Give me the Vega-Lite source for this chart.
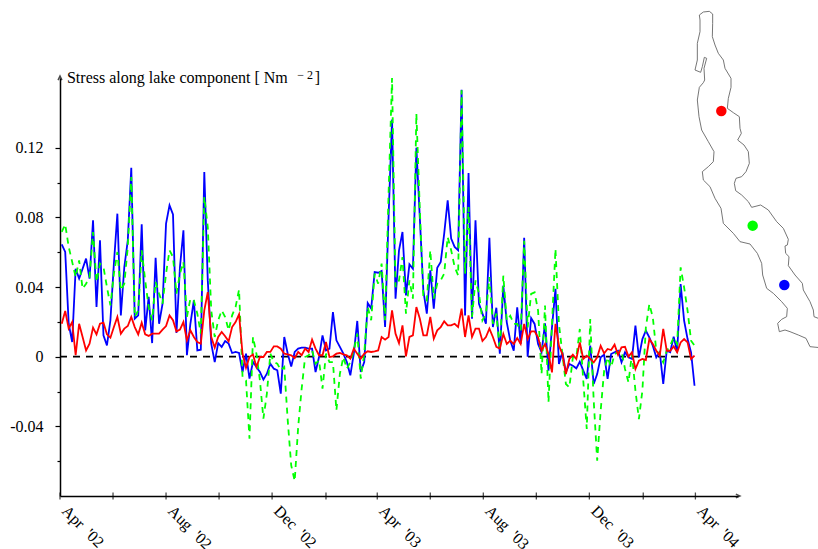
{"$schema":"https://vega.github.io/schema/vega-lite/v6.json","width":678,"height":418,"autosize":"none","padding":{"left":60,"top":78,"right":80,"bottom":53},"background":"white","config":{"view":{"stroke":null},"font":"Liberation Serif"},
"datasets":{"stress":[
{"date":"2002-04-03","south":0.0645,"central":0.0716,"north":0.0189},{"date":"2002-04-07","south":0.0601,"central":0.076,"north":0.0262},{"date":"2002-04-11","south":0.0189,"central":0.063,"north":0.0161},{"date":"2002-04-15","south":0.0084,"central":0.0544,"north":0.0199},{"date":"2002-04-19","south":0.0505,"central":0.0457,"north":0.0008},{"date":"2002-04-23","south":0.0448,"central":0.0553,"north":0.0189},{"date":"2002-04-27","south":0.0505,"central":0.039,"north":0.0113},
{"date":"2002-05-01","south":0.0563,"central":0.0419,"north":0.0036},{"date":"2002-05-05","south":0.0448,"central":0.0457,"north":0.0075},{"date":"2002-05-09","south":0.0783,"central":0.0716,"north":0.0167},{"date":"2002-05-13","south":0.0285,"central":0.0429,"north":0.0128},{"date":"2002-05-17","south":0.0668,"central":0.0534,"north":0.0189},{"date":"2002-05-21","south":0.0122,"central":0.0515,"north":0.0195},{"date":"2002-05-25","south":0.0065,"central":0.04,"north":0.0128},{"date":"2002-05-29","south":0.0209,"central":0.0295,"north":0.0109},
{"date":"2002-06-02","south":0.0534,"central":0.0477,"north":0.017},{"date":"2002-06-06","south":0.0821,"central":0.0601,"north":0.0228},{"date":"2002-06-10","south":0.0237,"central":0.0381,"north":0.0132},{"date":"2002-06-14","south":0.0515,"central":0.0419,"north":0.0161},{"date":"2002-06-18","south":0.0668,"central":0.063,"north":0.0176},{"date":"2002-06-22","south":0.1085,"central":0.1032,"north":0.0228},{"date":"2002-06-26","south":0.0218,"central":0.0228,"north":0.017},{"date":"2002-06-30","south":0.0237,"central":0.0266,"north":0.0128},
{"date":"2002-07-04","south":0.076,"central":0.0611,"north":0.0195},{"date":"2002-07-08","south":0.0151,"central":0.0438,"north":0.0128},{"date":"2002-07-12","south":0.0343,"central":0.0285,"north":0.0119},{"date":"2002-07-16","south":0.0078,"central":0.0209,"north":0.0132},{"date":"2002-07-20","south":0.0568,"central":0.0429,"north":0.0132},{"date":"2002-07-24","south":0.0189,"central":0.0362,"north":0.0132},{"date":"2002-07-28","south":0.0304,"central":0.0304,"north":0.0155},
{"date":"2002-08-01","south":0.0764,"central":0.0477,"north":0.0176},{"date":"2002-08-05","south":0.0869,"central":0.0611,"north":0.0237},{"date":"2002-08-09","south":0.0817,"central":0.0572,"north":0.0209},{"date":"2002-08-13","south":0.0136,"central":0.0362,"north":0.0145},{"date":"2002-08-17","south":0.0515,"central":0.0477,"north":0.0155},{"date":"2002-08-21","south":0.0725,"central":0.0544,"north":0.0199},{"date":"2002-08-25","south":0.0008,"central":0.0228,"north":0.0094},{"date":"2002-08-29","south":0.0189,"central":0.0333,"north":0.0151},
{"date":"2002-09-02","south":0.0323,"central":0.0323,"north":0.0113},{"date":"2002-09-06","south":0.0036,"central":0.0247,"north":0.0084},{"date":"2002-09-10","south":0.004,"central":0.0132,"north":0.0075},{"date":"2002-09-14","south":0.106,"central":0.0917,"north":0.0266},{"date":"2002-09-18","south":0.0438,"central":0.0744,"north":0.0371},{"date":"2002-09-22","south":0.0075,"central":0.0266,"north":0.0113},{"date":"2002-09-26","south":-0.0031,"central":0.0113,"north":0.0052},{"date":"2002-09-30","south":0.0078,"central":0.0209,"north":0.0113},
{"date":"2002-10-04","south":0.0056,"central":0.0266,"north":0.0142},{"date":"2002-10-08","south":0.009,"central":0.0228,"north":0.0117},{"date":"2002-10-12","south":0.0075,"central":0.0151,"north":0.0088},{"date":"2002-10-16","south":0.0021,"central":0.0237,"north":0.017},{"date":"2002-10-20","south":0.0027,"central":0.0285,"north":0.0199},{"date":"2002-10-24","south":0.0021,"central":0.0385,"north":0.0243},{"date":"2002-10-28","south":-0.0088,"central":-0.0117,"north":0.0017},
{"date":"2002-11-01","south":0.0017,"central":-0.0136,"north":-0.0063},{"date":"2002-11-05","south":-0.0126,"central":-0.0471,"north":-0.0002},{"date":"2002-11-09","south":-0.0031,"central":0.0113,"north":0.0013},{"date":"2002-11-13","south":-0.0059,"central":0.0017,"north":-0.0059},{"date":"2002-11-17","south":-0.0088,"central":-0.0136,"north":-0.0002},{"date":"2002-11-21","south":-0.0132,"central":-0.0356,"north":-0.0002},{"date":"2002-11-25","south":-0.0098,"central":-0.0212,"north":0.0027},{"date":"2002-11-29","south":-0.004,"central":0.0017,"north":0.0027},
{"date":"2002-12-03","south":-0.0069,"central":-0.0031,"north":0.0059},{"date":"2002-12-07","south":-0.0078,"central":-0.004,"north":0.0059},{"date":"2002-12-11","south":-0.0212,"central":-0.0078,"north":0.0046},{"date":"2002-12-15","south":0.0113,"central":-0.0059,"north":0.0017},{"date":"2002-12-19","south":0.0017,"central":-0.0366,"north":0.0013},{"date":"2002-12-23","south":-0.0056,"central":-0.0624,"north":0.0008},{"date":"2002-12-27","south":0.0027,"central":-0.0714,"north":-0.0008},{"date":"2002-12-31","south":0.0046,"central":-0.0404,"north":0.0027},
{"date":"2003-01-04","south":0.0052,"central":-0.0184,"north":0.0008},{"date":"2003-01-08","south":0.0052,"central":-0.0002,"north":0.0046},{"date":"2003-01-12","south":0.0046,"central":0.0008,"north":0.0027},{"date":"2003-01-16","south":0.0046,"central":0.0036,"north":0.0098},{"date":"2003-01-20","south":-0.0088,"central":-0.004,"north":0.0046},{"date":"2003-01-24","south":-0.0002,"central":-0.0021,"north":0.0008},{"date":"2003-01-28","south":0.0122,"central":-0.0184,"north":0.0008},
{"date":"2003-02-01","south":0.0036,"central":0.0017,"north":0.0084},{"date":"2003-02-05","south":0.0046,"central":-0.0031,"north":-0.0002},{"date":"2003-02-09","south":0.0256,"central":-0.0031,"north":0.0002},{"date":"2003-02-13","south":0.0094,"central":-0.0308,"north":0.0017},{"date":"2003-02-17","south":0.0056,"central":-0.0098,"north":0.0021},{"date":"2003-02-21","south":0.0017,"central":-0.0002,"north":0.0013},{"date":"2003-02-25","south":-0.0031,"central":-0.0069,"north":0.0008},
{"date":"2003-03-01","south":-0.0107,"central":-0.0031,"north":-0.0011},{"date":"2003-03-05","south":0.0017,"central":0.0036,"north":0.0046},{"date":"2003-03-09","south":0.0205,"central":0.0132,"north":0.0017},{"date":"2003-03-13","south":-0.0088,"central":-0.0126,"north":-0.0011},{"date":"2003-03-17","south":-0.0031,"central":0.0017,"north":0.0017},{"date":"2003-03-21","south":0.0308,"central":0.0285,"north":0.0031},{"date":"2003-03-25","south":0.0276,"central":0.0209,"north":0.0027},{"date":"2003-03-29","south":0.0486,"central":0.0477,"north":0.0031},
{"date":"2003-04-02","south":0.0482,"central":0.0419,"north":0.0036},{"date":"2003-04-06","south":0.0492,"central":0.0534,"north":0.0113},{"date":"2003-04-10","south":0.017,"central":0.0209,"north":0.0098},{"date":"2003-04-14","south":0.0802,"central":0.0936,"north":0.0113},{"date":"2003-04-18","south":0.1361,"central":0.16,"north":0.0266},{"date":"2003-04-22","south":0.0333,"central":0.04,"north":0.0132},{"date":"2003-04-26","south":0.0611,"central":0.0438,"north":0.0078},{"date":"2003-04-30","south":0.0716,"central":0.0572,"north":0.018},
{"date":"2003-05-04","south":0.0352,"central":0.0247,"north":0.0002},{"date":"2003-05-08","south":0.053,"central":0.0438,"north":0.0113},{"date":"2003-05-12","south":0.0505,"central":0.0333,"north":0.0122},{"date":"2003-05-16","south":0.12,"central":0.1395,"north":0.0285},{"date":"2003-05-20","south":0.0792,"central":0.084,"north":0.0218},{"date":"2003-05-24","south":0.0381,"central":0.0343,"north":0.0122},{"date":"2003-05-28","south":0.0247,"central":0.0323,"north":0.0122},
{"date":"2003-06-01","south":0.0496,"central":0.0611,"north":0.0228},{"date":"2003-06-05","south":0.0276,"central":0.0333,"north":0.0103},{"date":"2003-06-09","south":0.0511,"central":0.0419,"north":0.0151},{"date":"2003-06-13","south":0.0544,"central":0.0438,"north":0.017},{"date":"2003-06-17","south":0.0706,"central":0.0477,"north":0.0203},{"date":"2003-06-21","south":0.0898,"central":0.0687,"north":0.018},{"date":"2003-06-25","south":0.0678,"central":0.0611,"north":0.018},{"date":"2003-06-29","south":0.063,"central":0.0515,"north":0.0189},
{"date":"2003-07-03","south":0.0611,"central":0.0467,"north":0.017},{"date":"2003-07-07","south":0.1533,"central":0.1529,"north":0.0276},{"date":"2003-07-11","south":0.0237,"central":0.0477,"north":0.0113},{"date":"2003-07-15","south":0.1055,"central":0.0859,"north":0.0237},{"date":"2003-07-19","south":0.0218,"central":0.0228,"north":0.0113},{"date":"2003-07-23","south":0.0783,"central":0.0438,"north":0.0161},{"date":"2003-07-27","south":0.0304,"central":0.0362,"north":0.0161},{"date":"2003-07-31","south":0.0247,"central":0.0209,"north":0.009},
{"date":"2003-08-04","south":0.0189,"central":0.0247,"north":0.0113},{"date":"2003-08-08","south":0.0683,"central":0.0457,"north":0.0161},{"date":"2003-08-12","south":0.017,"central":0.0189,"north":0.0113},{"date":"2003-08-16","south":0.0281,"central":0.0247,"north":0.0056},{"date":"2003-08-20","south":0.0017,"central":0.0036,"north":0.0046},{"date":"2003-08-24","south":0.0408,"central":0.0465,"north":0.013},{"date":"2003-08-28","south":0.0197,"central":0.0207,"north":0.0073},
{"date":"2003-09-01","south":0.0092,"central":0.0235,"north":0.0092},{"date":"2003-09-05","south":0.0034,"central":0.0188,"north":0.0073},{"date":"2003-09-09","south":0.0283,"central":0.0188,"north":0.0107},{"date":"2003-09-13","south":0.0073,"central":0.0149,"north":0.0073},{"date":"2003-09-17","south":0.0683,"central":0.0666,"north":0.0188},{"date":"2003-09-21","south":0,"central":0.0168,"north":0.0101},{"date":"2003-09-25","south":0.0222,"central":0.036,"north":0.0145},{"date":"2003-09-29","south":0.0188,"central":0.0369,"north":0.0145},
{"date":"2003-10-03","south":0.0073,"central":0.0264,"north":0.0111},{"date":"2003-10-07","south":0.0025,"central":-0.01,"north":0.0034},{"date":"2003-10-11","south":0.0191,"central":0.0293,"north":0.0073},{"date":"2003-10-15","south":-0.008,"central":-0.0262,"north":0.0015},{"date":"2003-10-19","south":0.0168,"central":0.0188,"north":-0.009},{"date":"2003-10-23","south":0.0389,"central":0.0618,"north":0.0188},{"date":"2003-10-27","south":-0.0042,"central":0.0188,"north":0.0063},{"date":"2003-10-31","south":0.0025,"central":0.0015,"north":0.0015},
{"date":"2003-11-04","south":-0.009,"central":-0.0157,"north":-0.01},{"date":"2003-11-08","south":-0.0042,"central":-0.0176,"north":-0.0013},{"date":"2003-11-12","south":-0.0052,"central":-0.0004,"north":0.0011},{"date":"2003-11-16","south":-0.0067,"central":-0.0004,"north":-0.0013},{"date":"2003-11-20","south":-0.0029,"central":0.0159,"north":0.0082},{"date":"2003-11-24","south":-0.008,"central":-0.0138,"north":-0.0013},{"date":"2003-11-28","south":-0.0128,"central":-0.0415,"north":0.0006},
{"date":"2003-12-02","south":0.0063,"central":0.0216,"north":-0.0013},{"date":"2003-12-06","south":-0.0157,"central":-0.0253,"north":-0.0033},{"date":"2003-12-10","south":-0.01,"central":-0.0597,"north":-0.0004},{"date":"2003-12-14","south":-0.0004,"central":-0.031,"north":0.0063},{"date":"2003-12-18","south":0.0011,"central":-0.008,"north":0.0019},{"date":"2003-12-22","south":-0.0128,"central":-0.0004,"north":0.0044},{"date":"2003-12-26","south":0.0015,"central":-0.0061,"north":0.0038},{"date":"2003-12-30","south":0.0025,"central":0.0015,"north":0.0069},
{"date":"2004-01-03","south":0.0034,"central":0.0025,"north":0.0011},{"date":"2004-01-07","south":-0.0033,"central":0.0034,"north":0.0054},{"date":"2004-01-11","south":0.0025,"central":-0.0071,"north":0.0057},{"date":"2004-01-15","south":-0.0004,"central":-0.0147,"north":0},{"date":"2004-01-19","south":-0.0013,"central":0.0015,"north":0.0025},{"date":"2004-01-23","south":0.0178,"central":-0.0195,"north":-0.0071},{"date":"2004-01-27","south":-0.0004,"central":-0.0358,"north":-0.0023},{"date":"2004-01-31","south":0.0101,"central":-0.0195,"north":-0.0013},
{"date":"2004-02-04","south":0.0149,"central":0.0168,"north":-0.0019},{"date":"2004-02-08","south":0.0111,"central":0.0302,"north":0.0101},{"date":"2004-02-12","south":0.0063,"central":0.0226,"north":0.0073},{"date":"2004-02-16","south":-0.0004,"central":0.0034,"north":0.0034},{"date":"2004-02-20","south":0.0025,"central":0.0015,"north":0.0006},{"date":"2004-02-24","south":-0.0157,"central":-0.0033,"north":0.0159},{"date":"2004-02-28","south":0.0034,"central":0.0034,"north":0.0034},
{"date":"2004-03-03","south":0.0025,"central":0.0063,"north":0.0034},{"date":"2004-03-07","south":0.0115,"central":0.0111,"north":0.0059},{"date":"2004-03-11","south":0.0025,"central":0.0073,"north":0.0025},{"date":"2004-03-15","south":0.0417,"central":0.0513,"north":0.0082},{"date":"2004-03-19","south":0.0207,"central":0.0398,"north":0.0101},{"date":"2004-03-23","south":0.0101,"central":0.0264,"north":0.0082},{"date":"2004-03-27","south":0.0025,"central":0.0092,"north":-0.0013},{"date":"2004-03-31","south":-0.0167,"central":0.0063,"north":0.0006}
],
"zero":[{"date":"2002-04-01","v":0},{"date":"2004-03-31","v":0}],
"months":[{"date":"2002-04-01"},{"date":"2002-06-01"},{"date":"2002-08-01"},{"date":"2002-10-01"},{"date":"2002-12-01"},{"date":"2003-02-01"},{"date":"2003-04-01"},{"date":"2003-06-01"},{"date":"2003-08-01"},{"date":"2003-10-01"},{"date":"2003-12-01"},{"date":"2004-02-01"},{"date":"2004-04-01"}],
"lake":[{"seq":1,"east":88,"south":45},{"seq":2,"east":100,"south":36},{"seq":3,"east":118,"south":34},{"seq":4,"east":128,"south":42},{"seq":5,"east":128,"south":70},{"seq":6,"east":127,"south":110},{"seq":7,"east":135,"south":135},{"seq":8,"east":145,"south":160},{"seq":9,"east":160,"south":180},{"seq":10,"east":165,"south":205},{"seq":11,"east":183,"south":235},{"seq":12,"east":183,"south":262},{"seq":13,"east":175,"south":295},{"seq":14,"east":172,"south":325},{"seq":15,"east":190,"south":338},{"seq":16,"east":208,"south":350},{"seq":17,"east":210,"south":385},{"seq":18,"east":214,"south":400},{"seq":19,"east":203,"south":420},{"seq":20,"east":222,"south":435},{"seq":21,"east":235,"south":455},{"seq":22,"east":238,"south":490},{"seq":23,"east":228,"south":515},{"seq":24,"east":215,"south":530},{"seq":25,"east":198,"south":535},{"seq":26,"east":193,"south":550},{"seq":27,"east":197,"south":572},{"seq":28,"east":215,"south":585},{"seq":29,"east":235,"south":605},{"seq":30,"east":245,"south":622},{"seq":31,"east":272,"south":615},{"seq":32,"east":295,"south":630},{"seq":33,"east":320,"south":665},{"seq":34,"east":340,"south":685},{"seq":35,"east":355,"south":718},{"seq":36,"east":352,"south":735},{"seq":37,"east":345,"south":738},{"seq":38,"east":347,"south":760},{"seq":39,"east":357,"south":770},{"seq":40,"east":355,"south":797},{"seq":41,"east":375,"south":825},{"seq":42,"east":397,"south":850},{"seq":43,"east":400,"south":870},{"seq":44,"east":420,"south":905},{"seq":45,"east":430,"south":930},{"seq":46,"east":432,"south":950},{"seq":47,"east":450,"south":957},{"seq":48,"east":450,"south":1043},{"seq":49,"east":420,"south":1040},{"seq":50,"east":408,"south":1015},{"seq":51,"east":385,"south":1005},{"seq":52,"east":360,"south":995},{"seq":53,"east":345,"south":990},{"seq":54,"east":328,"south":995},{"seq":55,"east":323,"south":970},{"seq":56,"east":335,"south":958},{"seq":57,"east":350,"south":950},{"seq":58,"east":352,"south":925},{"seq":59,"east":335,"south":905},{"seq":60,"east":310,"south":880},{"seq":61,"east":290,"south":865},{"seq":62,"east":278,"south":825},{"seq":63,"east":275,"south":790},{"seq":64,"east":262,"south":760},{"seq":65,"east":240,"south":732},{"seq":66,"east":210,"south":725},{"seq":67,"east":190,"south":700},{"seq":68,"east":160,"south":670},{"seq":69,"east":153,"south":625},{"seq":70,"east":135,"south":595},{"seq":71,"east":120,"south":560},{"seq":72,"east":100,"south":540},{"seq":73,"east":97,"south":515},{"seq":74,"east":115,"south":500},{"seq":75,"east":130,"south":485},{"seq":76,"east":132,"south":455},{"seq":77,"east":115,"south":425},{"seq":78,"east":95,"south":390},{"seq":79,"east":87,"south":350},{"seq":80,"east":82,"south":300},{"seq":81,"east":88,"south":262},{"seq":82,"east":100,"south":248},{"seq":83,"east":104,"south":240},{"seq":84,"east":102,"south":205},{"seq":85,"east":110,"south":175},{"seq":86,"east":103,"south":172},{"seq":87,"east":97,"south":200},{"seq":88,"east":92,"south":217},{"seq":89,"east":75,"south":210},{"seq":90,"east":82,"south":180},{"seq":91,"east":82,"south":130},{"seq":92,"east":90,"south":95},{"seq":93,"east":90,"south":60},{"seq":94,"east":88,"south":45}],
"stations":[{"station":"north","east":154,"south":333},{"station":"central","east":248,"south":677},{"station":"south","east":343,"south":855}]
},
"layer":[
{"data":{"name":"stress"},
 "encoding":{"x":{"field":"date","type":"temporal","scale":{"type":"utc","domain":["2002-04-01","2004-05-20"]},"axis":{"title":null,"grid":false,"ticks":false,"domainColor":"black","domainWidth":1.5,"labelColor":"black","labelFont":"Liberation Serif","labelFontSize":16,"labelAngle":45,"labelAlign":"left","labelBaseline":"middle","labelPadding":12,"labelOffset":4,"labelFlush":false,"labelOverlap":false,"labelBound":false,
   "values":[{"year":2002,"month":4,"date":1,"utc":true},{"year":2002,"month":8,"date":1,"utc":true},{"year":2002,"month":12,"date":1,"utc":true},{"year":2003,"month":4,"date":1,"utc":true},{"year":2003,"month":8,"date":1,"utc":true},{"year":2003,"month":12,"date":1,"utc":true},{"year":2004,"month":4,"date":1,"utc":true}],
   "labelExpr":"utcFormat(datum.value, \"%b\u00a0 '%y\")"}}},
 "layer":[
  {"data":{"name":"zero"},"mark":{"type":"line","color":"black","strokeWidth":1.6,"strokeDash":[7,6]},"encoding":{"y":{"field":"v","type":"quantitative","scale":{"domain":[-0.08,0.16]},"axis":{"title":null,"grid":false,"domainColor":"black","domainWidth":1.5,"tickColor":"black","tickWidth":1.2,"tickSize":{"condition":{"test":"abs(round(datum.value*100))%4==0","value":5},"value":3},"labelColor":"black","labelFont":"Liberation Serif","labelFontSize":16,"labelPadding":12,"values":[-0.06,-0.04,-0.02,0,0.02,0.04,0.06,0.08,0.1,0.12],"labelExpr":"datum.value==0?'0':(abs(round(datum.value*100))%4==0?(datum.value<0?'-':'')+format(abs(datum.value),'.2f'):'')"}}}},
  {"mark":{"type":"line","color":"#0000ff","strokeWidth":1.8},"encoding":{"y":{"field":"south","type":"quantitative"}}},
  {"mark":{"type":"line","color":"#00ff00","strokeWidth":1.8,"strokeDash":[6,5]},"encoding":{"y":{"field":"central","type":"quantitative"}}},
  {"mark":{"type":"line","color":"#ff0000","strokeWidth":1.8},"encoding":{"y":{"field":"north","type":"quantitative"}}},
  {"data":{"name":"months"},"mark":{"type":"tick","orient":"vertical","color":"black","size":7,"thickness":1.3},"encoding":{"y":{"datum":-0.08,"type":"quantitative"}}},
  {"data":{"values":[{"date":"2002-04-01","v":0.16}]},"mark":{"type":"point","shape":"M -0.5 0.55 L 0 -0.5 L 0.5 0.55","filled":false,"stroke":"black","strokeWidth":1.5,"size":60},"encoding":{"y":{"field":"v","type":"quantitative"}}},
  {"data":{"values":[{"date":"2004-05-20","v":-0.08}]},"mark":{"type":"point","shape":"M -0.55 -0.5 L 0.5 0 L -0.55 0.5","filled":false,"stroke":"black","strokeWidth":1.5,"size":60},"encoding":{"y":{"field":"v","type":"quantitative"}}},
  {"data":{"values":[{"date":"2002-04-09","v":0.157,"label":"Stress along lake component [ Nm"},{"date":"2003-01-19","v":0.157,"label":"]"}]},"mark":{"type":"text","align":"left","baseline":"alphabetic","font":"Liberation Serif","fontSize":16,"color":"black"},"encoding":{"y":{"field":"v","type":"quantitative"},"text":{"field":"label"}}},
  {"data":{"values":[{"date":"2002-12-30","v":0.1595,"label":"\u2212 2"}]},"mark":{"type":"text","align":"left","baseline":"alphabetic","font":"Liberation Serif","fontSize":12,"color":"black"},"encoding":{"y":{"field":"v","type":"quantitative"},"text":{"field":"label"}}}
 ]},
{"layer":[
  {"data":{"name":"lake"},"mark":{"type":"line","color":"#666666","strokeWidth":0.9,"clip":false},"encoding":{"x":{"field":"east","type":"quantitative","scale":{"domain":[0,444],"range":[610,758],"nice":false,"zero":false},"axis":null},"y":{"field":"south","type":"quantitative","scale":{"domain":[0,1080],"range":[-78,282],"nice":false,"zero":false},"axis":null},"order":{"field":"seq","type":"quantitative"}}},
  {"data":{"name":"stations"},"mark":{"type":"circle","size":110,"opacity":1},"encoding":{"x":{"field":"east","type":"quantitative"},"y":{"field":"south","type":"quantitative"},"color":{"field":"station","type":"nominal","scale":{"domain":["north","central","south"],"range":["#ff0000","#00ff00","#0000ff"]},"legend":null}}}
 ]}
],
"resolve":{"scale":{"x":"independent","y":"independent"}}
}
